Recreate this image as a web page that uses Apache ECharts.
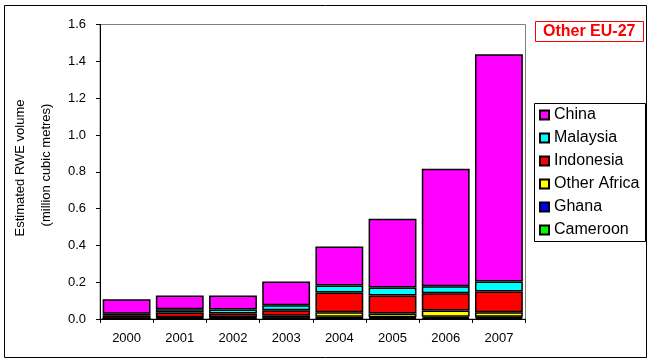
<!DOCTYPE html>
<html>
<head>
<meta charset="utf-8">
<script src="https://cdn.jsdelivr.net/npm/echarts@6/dist/echarts.min.js"></script>
<style>html,body{margin:0;padding:0;background:#fff;}#c{width:652px;height:362px;}</style>
</head>
<body>
<div id="c"></div>
<script>
var years = ['2000','2001','2002','2003','2004','2005','2006','2007'];
var cameroon    = [0, 0.002, 0.002, 0.003, 0.003, 0.004, 0.004, 0.008];
var ghana       = [0, 0.003, 0.003, 0.004, 0.009, 0.006, 0.008, 0.004];
var otherAfrica = [0, 0.005, 0.005, 0.010, 0.024, 0.020, 0.034, 0.024];
var indonesia   = [0.017, 0.025, 0.020, 0.031, 0.108, 0.098, 0.094, 0.114];
var malaysia    = [0.012, 0.018, 0.022, 0.027, 0.038, 0.043, 0.038, 0.054];
var china       = [0.078, 0.075, 0.076, 0.129, 0.212, 0.374, 0.638, 1.235];
var yTicks = ['0.0','0.2','0.4','0.6','0.8','1.0','1.2','1.4','1.6'];

var FONT = '"Liberation Sans", Arial, sans-serif';
function mk(name, data, color) {
  return {
    name: name, type: 'bar', stack: 'total', data: data,
    barCategoryGap: '10%',
    itemStyle: { color: color, borderColor: '#000', borderWidth: 1.5 },
    emphasis: { disabled: true }
  };
}
var chart = echarts.init(document.getElementById('c'), null, {renderer: 'canvas'});
chart.setOption({
  animation: false,
  backgroundColor: '#fff',
  title: {
    text: 'Other EU-27',
    left: 535, top: 21,
    padding: [2, 8, 2, 8],
    borderColor: '#FF0000', borderWidth: 1,
    textStyle: { color: '#FF0000', fontSize: 16, fontWeight: 'bold', fontFamily: FONT, lineHeight: 17 }
  },
  legend: {
    data: ['China','Malaysia','Indonesia','Other Africa','Ghana','Cameroon'],
    orient: 'vertical',
    left: 539, top: 107,
    padding: 0,
    itemWidth: 9, itemHeight: 9, itemGap: 7,
    icon: 'rect',
    textStyle: { fontSize: 16, lineHeight: 16, color: '#000', fontFamily: FONT }
  },
  grid: {
    left: 100, right: 126.5, top: 24.5, bottom: 43,
    show: true, borderColor: '#808080', borderWidth: 1, backgroundColor: 'transparent'
  },
  xAxis: {
    type: 'category', data: years,
    axisLine: { lineStyle: { color: '#000', width: 1 } },
    axisTick: { show: true, length: 4, lineStyle: { color: '#000' } },
    axisLabel: { color: '#000', fontSize: 13, fontFamily: FONT, margin: 13 }
  },
  yAxis: {
    type: 'value', min: 0, max: 1.6, interval: 0.2,
    axisLine: { show: true, lineStyle: { color: '#000', width: 1 } },
    axisTick: { show: true, length: 4, lineStyle: { color: '#000' } },
    splitLine: { show: false },
    axisLabel: {
      color: '#000', fontSize: 13, fontFamily: FONT, margin: 14,
      formatter: function (v) { return yTicks[Math.round(v / 0.2)]; }
    }
  },
  graphic: [
    { type: 'rect', shape: { x: 4.5, y: 5.5, width: 642, height: 352 },
      style: { fill: 'none', stroke: '#000', lineWidth: 1 }, silent: true, z: 100 },
    { type: 'rect', shape: { x: 534.5, y: 103.5, width: 111, height: 138 },
      style: { fill: 'none', stroke: '#000', lineWidth: 1 }, silent: true, z: 100 },
    { type: 'text', x: 20, y: 168, rotation: Math.PI / 2,
      style: { text: 'Estimated RWE volume', fontSize: 13, fontFamily: FONT, fill: '#000',
               align: 'center', verticalAlign: 'middle' } },
    { type: 'text', x: 46, y: 165, rotation: Math.PI / 2,
      style: { text: '(million cubic metres)', fontSize: 13, fontFamily: FONT, fill: '#000',
               align: 'center', verticalAlign: 'middle' } }
  ],
  series: [
    mk('Cameroon', cameroon, '#00FF00'),
    mk('Ghana', ghana, '#0000FF'),
    mk('Other Africa', otherAfrica, '#FFFF00'),
    mk('Indonesia', indonesia, '#FF0000'),
    mk('Malaysia', malaysia, '#00FFFF'),
    mk('China', china, '#FF00FF')
  ]
});
</script>
</body>
</html>
